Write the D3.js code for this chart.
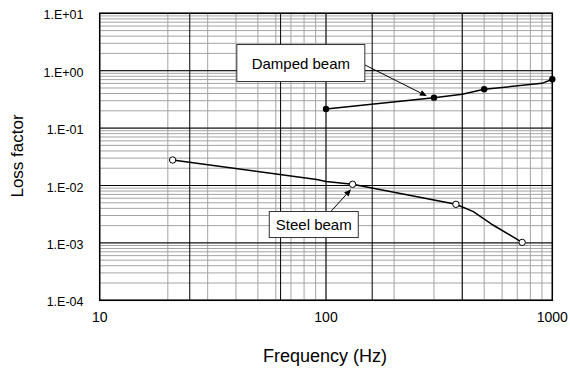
<!DOCTYPE html>
<html>
<head>
<meta charset="utf-8">
<script src="https://cdn.jsdelivr.net/npm/d3@7"></script>
<style>
  body { margin: 0; background: #fff; }
  text { font-family: "Liberation Sans", Arial, sans-serif; fill: #000; }
</style>
</head>
<body>
<script>
// damped beam: measured points (markers) and the connecting band curve
var dampedFreq = [100, 300, 500, 1000];
var dampedLoss = [0.215, 0.339, 0.474, 0.708];
var dampedCurveFreq = [100, 300, 400, 500, 900, 1000];
var dampedCurveLoss = [0.215, 0.339, 0.388, 0.474, 0.602, 0.708];

// steel beam
var steelFreq = [21, 131, 375, 736];
var steelLoss = [0.0278, 0.0105, 0.0047, 0.00102];
var steelCurveFreq = [21, 91, 100, 131, 375, 448, 547, 736];
var steelCurveLoss = [0.0278, 0.0127, 0.0117, 0.0105, 0.0047, 0.0035, 0.00205, 0.00102];

var xTickValues = [10, 100, 1000];
var xTickLabels = ["10", "100", "1000"];
var yTickValues = [10, 1, 0.1, 0.01, 0.001, 0.0001];
var yTickLabels = ["1.E+01", "1.E+00", "1.E-01", "1.E-02", "1.E-03", "1.E-04"];
var majorFreqLines = [25, 63, 100, 160, 400];

// callouts, given in data units: box centre, arrow tail, arrow tip
var callouts = [
  { text: "Damped beam", boxF: 77.4, boxV: 1.36, w: 128, h: 37,
    tailF: 148.7, tailV: 1.257, tipF: 279, tipV: 0.362 },
  { text: "Steel beam", boxF: 88.3, boxV: 0.00209, w: 89, h: 26,
    tailF: 104.9, tailV: 0.0035, tipF: 129, tipV: 0.00859 }
];

function draw_chart() {
  var size = ({ width: 570, height: 369 });
  var plot = ({ left: 99.7, right: 552.3, top: 13.3, bottom: 300.3 });

  var svg = d3.select("body").append("svg")
              .attr("width", size.width)
              .attr("height", size.height);

  var x = d3.scaleLog().domain([10, 1000]).range([plot.left, plot.right]);
  var y = d3.scaleLog().domain([0.0001, 10]).range([plot.bottom, plot.top]);

  var grid = svg.append("g");
  // minor grid
  grid.selectAll(".vminor")
      .data(x.ticks())
      .enter().append("line")
      .attr("x1", d => x(d)).attr("x2", d => x(d))
      .attr("y1", plot.top).attr("y2", plot.bottom)
      .attr("stroke", "#a4a4a4").attr("stroke-width", 1);
  grid.selectAll(".hminor")
      .data(y.ticks())
      .enter().append("line")
      .attr("x1", plot.left).attr("x2", plot.right)
      .attr("y1", d => y(d)).attr("y2", d => y(d))
      .attr("stroke", "#a4a4a4").attr("stroke-width", 1);
  // major grid
  grid.selectAll(".vmajor")
      .data(majorFreqLines)
      .enter().append("line")
      .attr("x1", d => x(d)).attr("x2", d => x(d))
      .attr("y1", plot.top).attr("y2", plot.bottom)
      .attr("stroke", "#000").attr("stroke-width", 1);
  grid.selectAll(".hmajor")
      .data(yTickValues)
      .enter().append("line")
      .attr("x1", plot.left).attr("x2", plot.right)
      .attr("y1", d => y(d)).attr("y2", d => y(d))
      .attr("stroke", "#000").attr("stroke-width", 1);

  svg.append("rect")
     .attr("x", plot.left).attr("y", plot.top)
     .attr("width", plot.right - plot.left)
     .attr("height", plot.bottom - plot.top)
     .attr("fill", "none").attr("stroke", "#000").attr("stroke-width", 1.5);

  // tick labels
  svg.selectAll(".xlab")
     .data(xTickValues)
     .enter().append("text")
     .attr("x", d => x(d)).attr("y", 321.5)
     .attr("text-anchor", "middle")
     .style("font-size", "14px")
     .text((d, i) => xTickLabels[i]);
  svg.selectAll(".ylab")
     .data(yTickValues)
     .enter().append("text")
     .attr("x", 83.5).attr("y", d => y(d) + 6)
     .attr("text-anchor", "end")
     .style("font-size", "12.5px")
     .text((d, i) => yTickLabels[i]);

  svg.append("text")
     .attr("x", 325).attr("y", 362)
     .attr("text-anchor", "middle")
     .style("font-size", "18px")
     .text("Frequency (Hz)");
  svg.append("text")
     .attr("transform", "translate(23,156) rotate(-90)")
     .attr("text-anchor", "middle")
     .style("font-size", "17px")
     .text("Loss factor");

  var line = d3.line().x(d => x(d[0])).y(d => y(d[1]));

  svg.append("path")
     .datum(d3.zip(dampedCurveFreq, dampedCurveLoss))
     .attr("d", line)
     .attr("fill", "none").attr("stroke", "#000").attr("stroke-width", 1.5);
  svg.append("path")
     .datum(d3.zip(steelCurveFreq, steelCurveLoss))
     .attr("d", line)
     .attr("fill", "none").attr("stroke", "#000").attr("stroke-width", 1.5);

  svg.selectAll(".damped")
     .data(d3.zip(dampedFreq, dampedLoss))
     .enter().append("circle")
     .attr("cx", d => x(d[0])).attr("cy", d => y(d[1]))
     .attr("r", 3.2)
     .attr("fill", "#000");
  svg.selectAll(".steel")
     .data(d3.zip(steelFreq, steelLoss))
     .enter().append("circle")
     .attr("cx", d => x(d[0])).attr("cy", d => y(d[1]))
     .attr("r", 3.2)
     .attr("fill", "#fff").attr("stroke", "#000").attr("stroke-width", 1);

  // callouts with arrows
  callouts.forEach(c => {
    var x1 = x(c.tailF), y1 = y(c.tailV), x2 = x(c.tipF), y2 = y(c.tipV);
    var ang = Math.atan2(y2 - y1, x2 - x1);
    var len = 7, half = 3;
    var bx = x2 - len * Math.cos(ang), by = y2 - len * Math.sin(ang);
    svg.append("line")
       .attr("x1", x1).attr("y1", y1).attr("x2", bx).attr("y2", by)
       .attr("stroke", "#000").attr("stroke-width", 1);
    svg.append("path")
       .attr("d", "M" + x2 + "," + y2 +
                  "L" + (bx + half * Math.sin(ang)) + "," + (by - half * Math.cos(ang)) +
                  "L" + (bx - half * Math.sin(ang)) + "," + (by + half * Math.cos(ang)) + "Z")
       .attr("fill", "#000");

    var cx = x(c.boxF), cy = y(c.boxV);
    svg.append("rect")
       .attr("x", cx - c.w / 2).attr("y", cy - c.h / 2)
       .attr("width", c.w).attr("height", c.h)
       .attr("fill", "#fff").attr("stroke", "#333").attr("stroke-width", 1);
    svg.append("text")
       .attr("x", cx).attr("y", cy + 5.5)
       .attr("text-anchor", "middle")
       .style("font-size", "15px")
       .text(c.text);
  });
}

draw_chart();
</script>
</body>
</html>
